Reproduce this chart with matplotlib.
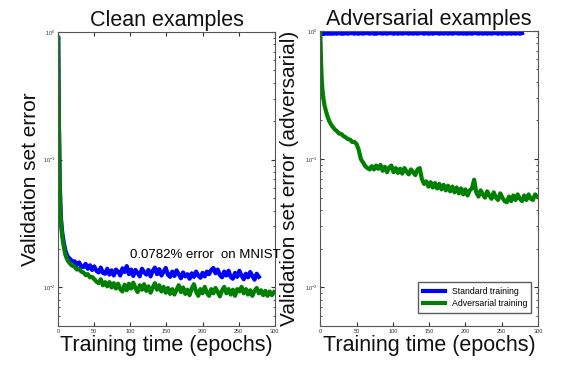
import matplotlib
matplotlib.use("Agg")
import matplotlib.pyplot as plt

plt.rcParams['font.family'] = ['Liberation Sans', 'DejaVu Sans']

# shared epoch grid: dense at the start, then every 3 epochs
epochs = [0, 1, 2, 3, 4, 5, 6, 8, 10, 12, 14, 16, 18, 20] + list(range(23, 300, 3))

# clean examples, standard training (blue)
clean_std = [0.9, 0.2, 0.075, 0.045, 0.034, 0.029, 0.026, 0.022, 0.0195, 0.018, 0.0172, 0.0168, 0.0163, 0.016,
             0.0160, 0.0150, 0.0157, 0.0146, 0.0144, 0.0153, 0.0140, 0.0149, 0.0137, 0.0146,
             0.0135, 0.0131, 0.0143, 0.0130, 0.0128, 0.0140, 0.0126, 0.0136, 0.0124, 0.0138,
             0.0133, 0.0124, 0.0141, 0.0132, 0.0147, 0.0127, 0.0138, 0.0123, 0.0137, 0.0130,
             0.0122, 0.0140, 0.0132, 0.0126, 0.0137, 0.0122, 0.0135, 0.0143, 0.0127, 0.0139,
             0.0124, 0.0133, 0.0142, 0.0126, 0.0121, 0.0133, 0.0123, 0.0136, 0.0127, 0.0118,
             0.0131, 0.0122, 0.0127, 0.0117, 0.0129, 0.0121, 0.0133, 0.0124, 0.0119, 0.0130,
             0.0122, 0.0133, 0.0127, 0.0137, 0.0142, 0.0129, 0.0138, 0.0125, 0.0120, 0.0133,
             0.0124, 0.0135, 0.0121, 0.0117, 0.0130, 0.0121, 0.0135, 0.0124, 0.0116, 0.0128,
             0.0120, 0.0132, 0.0123, 0.0115, 0.0128, 0.0121]

# clean examples, adversarial training (green)
clean_adv = [0.9, 0.19, 0.07, 0.043, 0.032, 0.027, 0.024, 0.0205, 0.018, 0.0168, 0.016, 0.0155, 0.015, 0.0148,
             0.0145, 0.0138, 0.0140, 0.0133, 0.0131, 0.0125, 0.0127, 0.0120, 0.0121, 0.0116,
             0.0111, 0.0108, 0.0116, 0.0104, 0.0110, 0.0102, 0.0110, 0.0100, 0.0108, 0.0098,
             0.0107, 0.0097, 0.0093, 0.0105, 0.0095, 0.0107, 0.0098, 0.0109, 0.0099, 0.0092,
             0.0104, 0.0096, 0.0106, 0.0094, 0.0102, 0.0091, 0.0100, 0.0108, 0.0096, 0.0104,
             0.0093, 0.0101, 0.0091, 0.0099, 0.0089, 0.0097, 0.0088, 0.0096, 0.0104, 0.0092,
             0.0100, 0.0089, 0.0096, 0.0087, 0.0098, 0.0106, 0.0093, 0.0086, 0.0097, 0.0090,
             0.0101, 0.0091, 0.0086, 0.0097, 0.0090, 0.0099, 0.0092, 0.0085, 0.0095, 0.0101,
             0.0090, 0.0097, 0.0088, 0.0096, 0.0086, 0.0097, 0.0093, 0.0101, 0.0090, 0.0097,
             0.0088, 0.0095, 0.0086, 0.0094, 0.0099, 0.0090, 0.0095, 0.0087, 0.0094, 0.0086,
             0.0093, 0.0087, 0.0092]

# adversarial examples, standard training (blue)
adv_std = [0.95, 0.96, 0.95, 0.96, 0.95, 0.96, 0.95, 0.96, 0.95, 0.96, 0.95, 0.96, 0.95, 0.96,
           0.95, 0.96, 0.95, 0.95, 0.96, 0.95, 0.96, 0.96, 0.95, 0.96,
           0.95, 0.96, 0.95, 0.96, 0.96, 0.95, 0.96, 0.95, 0.95, 0.96,
           0.96, 0.95, 0.96, 0.95, 0.96, 0.96, 0.95, 0.96, 0.95, 0.96,
           0.95, 0.96, 0.96, 0.95, 0.96, 0.95, 0.96, 0.95, 0.96, 0.96,
           0.95, 0.96, 0.95, 0.96, 0.95, 0.96, 0.96, 0.95, 0.96, 0.95,
           0.96, 0.95, 0.96, 0.95, 0.96, 0.96, 0.95, 0.96, 0.95, 0.96,
           0.95, 0.96, 0.95, 0.96, 0.96, 0.95, 0.96, 0.95, 0.96, 0.95,
           0.96, 0.95, 0.96, 0.96, 0.95, 0.96, 0.95, 0.96, 0.95, 0.96,
           0.95, 0.96, 0.95, 0.96, 0.95, 0.96]

# adversarial examples, adversarial training (green)
adv_adv = [0.95, 0.6, 0.42, 0.35, 0.31, 0.28, 0.26, 0.235, 0.215, 0.2, 0.19, 0.182, 0.176, 0.17,
           0.165, 0.158, 0.157, 0.151, 0.148, 0.143, 0.142, 0.136, 0.136, 0.131,
           0.118, 0.100, 0.094, 0.088, 0.085, 0.083, 0.088, 0.083, 0.089, 0.084,
           0.090, 0.081, 0.087, 0.079, 0.086, 0.089, 0.079, 0.085, 0.078, 0.084,
           0.077, 0.085, 0.080, 0.076, 0.083, 0.079, 0.075, 0.083, 0.085, 0.070,
           0.064, 0.067, 0.061, 0.066, 0.060, 0.065, 0.059, 0.064, 0.058, 0.063,
           0.057, 0.062, 0.056, 0.061, 0.055, 0.060, 0.054, 0.059, 0.053, 0.058,
           0.052, 0.057, 0.059, 0.069, 0.055, 0.051, 0.057, 0.053, 0.050, 0.056,
           0.052, 0.049, 0.055, 0.050, 0.048, 0.054, 0.050, 0.047, 0.046, 0.051,
           0.047, 0.052, 0.048, 0.053, 0.049, 0.047, 0.052, 0.048, 0.053, 0.049,
           0.048, 0.053, 0.051]

fig = plt.figure(figsize=(5.76, 3.67), dpi=100)
ax1 = fig.add_axes([0.101, 0.112, 0.376, 0.801])
ax2 = fig.add_axes([0.556, 0.112, 0.378, 0.804])

ax1.plot(epochs[:len(clean_std)], clean_std, color='#0000ff', lw=3)
ax1.plot(epochs[:len(clean_adv)], clean_adv, color='#008000', lw=3)
ax2.plot(epochs[:len(adv_std)], adv_std, color='#0000ff', lw=3, label='Standard training')
ax2.plot(epochs[:len(adv_adv)], adv_adv, color='#008000', lw=3, label='Adversarial training')

for ax in (ax1, ax2):
    ax.set_yscale('log')
    ax.set_ylim(0.005, 1.0)
    ax.set_xlim(0, 300)
    ax.set_xticks([0, 50, 100, 150, 200, 250, 300])
    ax.tick_params(which='both', direction='in', top=True, right=True,
                   labelsize=4, colors='#333333', pad=2)
    ax.tick_params(which='major', length=3)
    ax.tick_params(which='minor', length=1.5)
    for s in ax.spines.values():
        s.set_color('#555555')
    ax.set_xlabel('Training time (epochs)', fontsize=15.5, labelpad=1, color='#111111')

ax1.set_title('Clean examples', fontsize=15.5, pad=4, color='#111111')
ax2.set_title('Adversarial examples', fontsize=15.5, pad=4, color='#111111')
ax1.set_ylabel('Validation set error', fontsize=15, labelpad=2, color='#111111')
ax2.set_ylabel('Validation set error (adversarial)', fontsize=15, labelpad=4, color='#111111')

ax2.legend(loc='lower right', bbox_to_anchor=(0.99, 0.03), fontsize=6.3,
           handlelength=2.5, frameon=True, fancybox=False, edgecolor='#333333',
           borderpad=0.5, labelspacing=0.4)

fig.text(0.226, 0.297, '0.0782% error  on MNIST', fontsize=9.5, va='baseline')

fig.savefig('out.png', dpi=100)
